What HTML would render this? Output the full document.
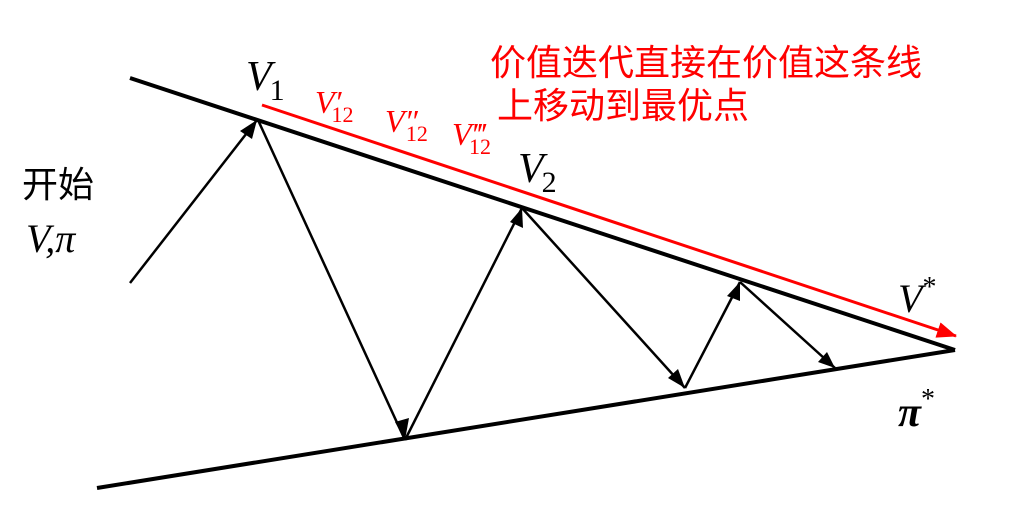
<!DOCTYPE html>
<html><head><meta charset="utf-8"><style>
html,body{margin:0;padding:0;background:#fff;}
svg{display:block;}
.m{font-family:"Liberation Serif",serif;font-style:italic;}
.u{font-family:"Liberation Serif",serif;font-style:normal;}
.c{font-family:"Liberation Sans","Noto Sans CJK SC",sans-serif;}
</style></head><body>
<svg width="1012" height="518" viewBox="0 0 1012 518" xmlns="http://www.w3.org/2000/svg">
<defs>
<marker id="r" markerWidth="20" markerHeight="16" refX="19" refY="8" orient="auto" markerUnits="userSpaceOnUse"><path d="M0,0 L20,8 L0,16 Z" fill="#f00"/></marker>
</defs>
<line x1="130" y1="78" x2="955" y2="350" stroke="#000" stroke-width="4"/>
<line x1="97" y1="488" x2="955" y2="350" stroke="#000" stroke-width="4"/>
<line x1="262" y1="105" x2="956" y2="336" stroke="#f00" stroke-width="3" marker-end="url(#r)"/>
<g stroke="#000" stroke-width="2.5" fill="none">
<line x1="130" y1="283" x2="257" y2="120"/>
<line x1="258" y1="120" x2="405" y2="440"/>
<line x1="405" y1="440" x2="522" y2="208"/>
<line x1="522" y1="208" x2="685" y2="388"/>
<line x1="685" y1="388" x2="740" y2="282"/>
<line x1="740" y1="282" x2="835" y2="368"/>
</g>
<g fill="#000">
<path d="M257,120 L240,131 L252,139 Z"/>
<path d="M405,440 L395,422 L409,418 Z"/>
<path d="M522,208 L510,222 L523,228 Z"/>
<path d="M685,388 L668,378 L678,369 Z"/>
<path d="M740,282 L727,296 L740,301 Z"/>
<path d="M835,368 L818,362 L827,352 Z"/>
</g>
<text x="246" y="90" font-size="42" class="m">V<tspan class="u" font-size="30" dy="10" dx="-2">1</tspan></text>
<text x="518" y="182" font-size="42" class="m">V<tspan class="u" font-size="30" dy="10" dx="-2">2</tspan></text>
<text x="315" y="113" font-size="32" fill="#f00" class="m">V′<tspan class="u" font-size="22" dy="9" dx="-10">12</tspan></text>
<text x="385" y="132" font-size="32" fill="#f00" class="m">V″<tspan class="u" font-size="22" dy="9" dx="-12">12</tspan></text>
<text x="452" y="145" font-size="32" fill="#f00" class="m">V‴<tspan class="u" font-size="22" dy="9" dx="-16">12</tspan></text>
<text x="898" y="312" font-size="40" class="m">V<tspan class="u" font-size="28" dy="-16">*</tspan></text>
<text x="898" y="426" font-size="42" class="m" font-weight="bold">π<tspan class="u" font-size="28" dy="-18" font-weight="normal">*</tspan></text>
<text x="22" y="197" font-size="36" class="c">开始</text>
<text x="26" y="252" font-size="40" class="m">V,π</text>
<text x="490" y="75" font-size="36" fill="#f00" class="c">价值迭代直接在价值这条线</text>
<text x="497" y="118" font-size="36" fill="#f00" class="c">上移动到最优点</text>
</svg>
</body></html>
